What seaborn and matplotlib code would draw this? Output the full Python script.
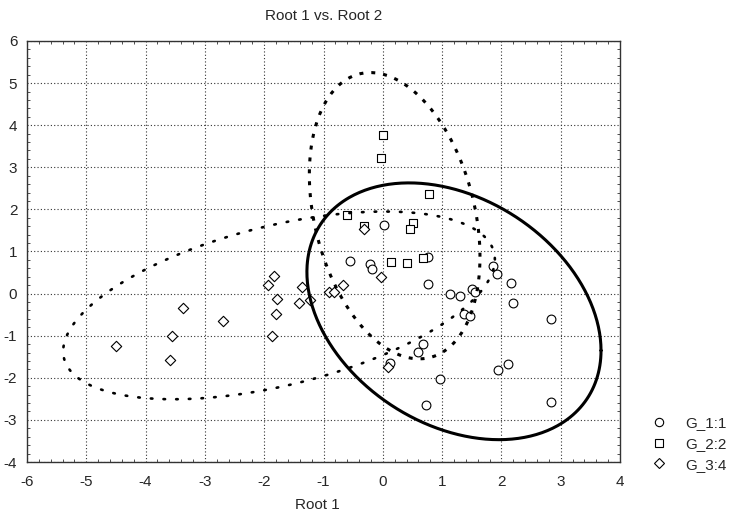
import numpy as np
import pandas as pd
import matplotlib
matplotlib.use("Agg")
import matplotlib.pyplot as plt
from matplotlib.lines import Line2D
from matplotlib.ticker import MultipleLocator
import seaborn as sns

# ---- data -------------------------------------------------------------
groups = ["G_1:1", "G_2:2", "G_3:4"]

g1_x = [0.02, -0.55, -0.22, -0.18, 0.76, 0.76, 1.13, 1.30, 1.50, 1.55, 1.37, 1.47,
        1.86, 1.93, 2.16, 2.19, 2.84, 0.68, 0.59, 0.12, 0.96, 1.94, 2.11, 0.73, 2.84]
g1_y = [1.62, 0.78, 0.70, 0.58, 0.87, 0.23, -0.01, -0.05, 0.11, 0.04, -0.48, -0.53,
        0.66, 0.46, 0.24, -0.23, -0.61, -1.20, -1.39, -1.64, -2.03, -1.82, -1.67, -2.65, -2.58]

g2_x = [0.00, -0.03, 0.78, -0.60, -0.32, 0.51, 0.46, 0.14, 0.41, 0.67]
g2_y = [3.77, 3.22, 2.37, 1.87, 1.60, 1.68, 1.53, 0.74, 0.72, 0.84]

g3_x = [-4.50, -3.59, -3.55, -3.37, -2.69, -1.87, -1.80, -1.78, -1.94, -1.84,
        -1.41, -1.36, -1.23, -0.91, -0.82, -0.67, -0.32, -0.03, 0.09]
g3_y = [-1.24, -1.58, -1.01, -0.34, -0.65, -1.01, -0.48, -0.13, 0.20, 0.42,
        -0.22, 0.16, -0.15, 0.04, 0.04, 0.21, 1.53, 0.39, -1.74]

# ellipse parameters per group (centre and covariance-like shape)
ell_cx = [1.20, 0.20, -1.75]
ell_cy = [-0.42, 1.85, -0.28]
ell_sxx = [6.15, 2.07, 13.25]
ell_syy = [9.30, 11.56, 4.97]
ell_sxy = [-2.31, -1.40, 3.97]

x_ticks = [-6, -5, -4, -3, -2, -1, 0, 1, 2, 3, 4]
y_ticks = [-4, -3, -2, -1, 0, 1, 2, 3, 4, 5, 6]

# ---- style ------------------------------------------------------------
sns.set_style("white")
plt.rcParams["font.family"] = ["Liberation Sans", "DejaVu Sans"]
plt.rcParams["font.size"] = 11

df = pd.DataFrame({
    "x": g1_x + g2_x + g3_x,
    "y": g1_y + g2_y + g3_y,
    "group": [groups[0]] * len(g1_x) + [groups[1]] * len(g2_x) + [groups[2]] * len(g3_x),
})

fig = plt.figure(figsize=(7.37, 5.17), dpi=100)
ax = fig.add_axes([27 / 737, 1 - 462 / 517, (620 - 27) / 737, (462 - 41) / 517])

markers = {groups[0]: "o", groups[1]: "s", groups[2]: "D"}
sizes_map = {groups[0]: 40, groups[1]: 38, groups[2]: 28}

for g in groups:
    sub = df[df["group"] == g]
    sns.scatterplot(data=sub, x="x", y="y", marker=markers[g], s=sizes_map[g],
                    color="white", edgecolor="black", linewidth=0.8,
                    ax=ax, legend=False, zorder=3)

# ellipses
styles = [
    dict(linestyle="-", linewidth=2.2),
    dict(linestyle=(0, (1.3, 2.6)), linewidth=2.2),
    dict(linestyle=(0, (0.6, 4.2)), linewidth=1.9, dash_capstyle="round"),
]
t = np.linspace(0, 2 * np.pi, 400)
for i in range(3):
    S = np.array([[ell_sxx[i], ell_sxy[i]], [ell_sxy[i], ell_syy[i]]])
    L = np.linalg.cholesky(S)
    pts = L @ np.vstack([np.cos(t), np.sin(t)])
    ax.plot(ell_cx[i] + pts[0], ell_cy[i] + pts[1], color="black", zorder=4, **styles[i])

ax.set_xlim(-6, 4)
ax.set_ylim(-4, 6)
ax.set_xticks(x_ticks)
ax.set_yticks(y_ticks)
ax.set_xticklabels([str(v) for v in x_ticks])
ax.set_yticklabels([str(v) for v in y_ticks])
ax.xaxis.set_minor_locator(MultipleLocator(0.2))
ax.yaxis.set_minor_locator(MultipleLocator(0.2))
ax.tick_params(which="major", direction="in", length=0, pad=9, labelsize=11,
               top=False, right=False)
ax.tick_params(axis="y", which="major", pad=7)
ax.tick_params(which="minor", direction="in", length=2.5, width=0.6, color="#333333",
               top=True, right=True, bottom=True, left=True)
ax.grid(True, which="major", color="#333333", linestyle=(0, (1, 2)), linewidth=0.8)
ax.set_axisbelow(True)
for sp in ax.spines.values():
    sp.set_color("#333333")
    sp.set_linewidth(1.0)

ax.set_xlabel("Root 1", fontsize=11, labelpad=12)
ax.xaxis.set_label_coords(0.49, -0.085, transform=ax.transAxes)
ax.xaxis.label.set_va("top")
ax.set_ylabel("")
ax.set_title("Root 1 vs. Root 2", fontsize=11, pad=15)

handles = [Line2D([], [], linestyle="none", marker=markers[g], markersize=ms,
                  markerfacecolor="white", markeredgecolor="black", markeredgewidth=0.8)
           for g, ms in zip(groups, [6, 6, 4.8])]
fig.legend(handles, groups, loc="upper left", bbox_to_anchor=(650 / 737, 1 - 416 / 517),
           frameon=False, fontsize=11, handlelength=1.2, handletextpad=1.1,
           labelspacing=0.45, borderpad=0, borderaxespad=0)

fig.savefig("out.png", dpi=100)
